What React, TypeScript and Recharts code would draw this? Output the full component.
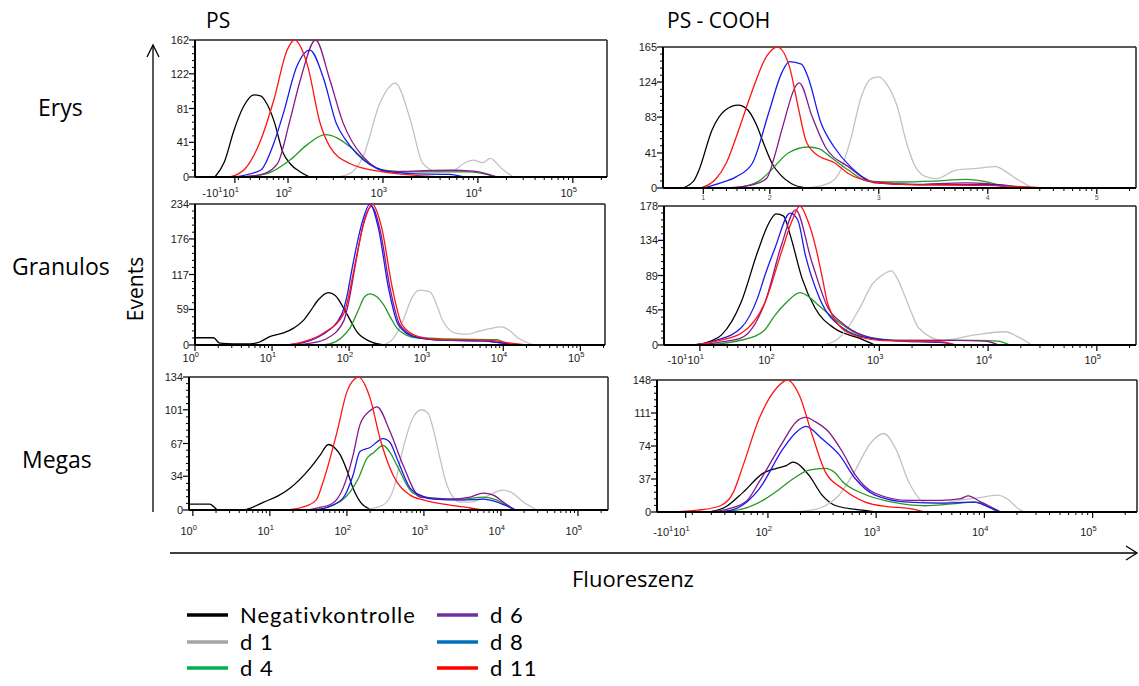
import { LineChart, Line, XAxis, YAxis, ReferenceLine } from "recharts";

type Pt = [number, number];

const seriesNames = ["Negativkontrolle", "d 1", "d 4", "d 6", "d 8", "d 11"];
const lineColors = ["#000000", "#c2c2c2", "#259a25", "#86188a", "#1a1aee", "#ff1414"];
const legendColors = ["#000000", "#a6a6a6", "#00b050", "#7030a0", "#0070c0", "#ff0000"];

const columnTitles = ["PS", "PS - COOH"];
const rowTitles = ["Erys", "Granulos", "Megas"];

// x = position on the fluorescence axis in decades (2 = 10^2), y = events

// PS, Erys
const psErysNeg: Pt[] = [[1.23, 0], [1.33, 18], [1.43, 55], [1.53, 83], [1.64, 97], [1.71, 96], [1.78, 86], [1.85, 67], [1.95, 28], [2.02, 16], [2.13, 6], [2.23, 0]];
const psErysD1: Pt[] = [[2.51, 0], [2.65, 4], [2.79, 24], [2.97, 88], [3.13, 111], [3.29, 67], [3.42, 16], [3.59, 6], [3.75, 8], [3.85, 16], [3.95, 20], [4.05, 17], [4.13, 22], [4.25, 10], [4.37, 0]];
const psErysD4: Pt[] = [[1.5, 0], [1.78, 4], [2.02, 20], [2.2, 38], [2.39, 50], [2.52, 46], [2.65, 36], [2.83, 18], [3.0, 8], [3.3, 6], [3.9, 6], [4.2, 0]];
const psErysD6: Pt[] = [[1.53, 0], [1.75, 4], [1.89, 16], [2.02, 67], [2.13, 115], [2.29, 162], [2.44, 115], [2.58, 64], [2.79, 24], [3.07, 6], [3.3, 7], [3.7, 8], [3.95, 7], [4.2, 0]];
const psErysD8: Pt[] = [[1.43, 0], [1.71, 8], [1.85, 40], [1.95, 75], [2.09, 130], [2.23, 150], [2.37, 118], [2.51, 63], [2.6, 45], [2.72, 28], [3.0, 8], [3.3, 4], [3.7, 3], [3.85, 0]];
const psErysD11: Pt[] = [[1.39, 0], [1.55, 10], [1.71, 43], [1.85, 91], [1.99, 150], [2.07, 162], [2.2, 134], [2.34, 63], [2.44, 36], [2.65, 16], [3.0, 6], [3.35, 2], [3.65, 0]];

// PS - COOH, Erys
const coohErysNeg: Pt[] = [[1.2, 0], [1.3, 8], [1.35, 21], [1.47, 68], [1.59, 91], [1.71, 97], [1.8, 91], [1.87, 76], [1.95, 50], [2.02, 29], [2.1, 15], [2.2, 5], [2.33, 0]];
const coohErysD1: Pt[] = [[2.35, 0], [2.55, 6], [2.65, 21], [2.74, 56], [2.84, 107], [2.93, 128], [3.0, 130], [3.08, 120], [3.17, 95], [3.25, 55], [3.32, 29], [3.42, 14], [3.53, 11], [3.71, 21], [3.9, 23], [4.07, 25], [4.18, 18], [4.26, 11], [4.41, 0]];
const coohErysD4: Pt[] = [[1.69, 0], [1.9, 8], [1.99, 18], [2.17, 41], [2.35, 48], [2.45, 46], [2.56, 36], [2.72, 21], [2.9, 8], [3.2, 7], [3.5, 8], [3.8, 10], [4.0, 7], [4.2, 0]];
const coohErysD6: Pt[] = [[1.6, 0], [1.85, 4], [1.97, 11], [2.05, 40], [2.11, 68], [2.27, 123], [2.39, 83], [2.51, 48], [2.72, 25], [2.96, 6], [3.3, 4], [3.8, 6], [4.0, 5], [4.2, 0]];
const coohErysD8: Pt[] = [[1.39, 0], [1.55, 6], [1.69, 13], [1.84, 29], [1.99, 88], [2.11, 135], [2.18, 148], [2.29, 145], [2.35, 130], [2.47, 76], [2.59, 48], [2.74, 25], [2.96, 7], [3.4, 4], [4.1, 4], [4.3, 0]];
const coohErysD11: Pt[] = [[1.36, 0], [1.5, 10], [1.6, 29], [1.72, 70], [1.82, 107], [1.97, 154], [2.07, 165], [2.18, 142], [2.26, 95], [2.33, 56], [2.42, 40], [2.6, 29], [2.72, 17], [2.96, 7], [3.3, 4], [4.0, 3], [4.57, 0]];

// PS, Granulos
const psGranNeg: Pt[] = [[0, 12], [0.24, 12], [0.32, 3], [0.5, 2], [0.71, 2], [0.84, 5], [0.97, 14], [1.15, 20], [1.28, 28], [1.4, 40], [1.49, 55], [1.6, 75], [1.73, 87], [1.82, 82], [1.93, 61], [2.02, 40], [2.1, 22], [2.27, 6], [2.45, 0]];
const psGranD1: Pt[] = [[2.45, 0], [2.58, 12], [2.71, 44], [2.82, 80], [2.92, 91], [3.05, 88], [3.14, 65], [3.22, 39], [3.4, 19], [3.55, 18], [3.66, 22], [3.82, 27], [3.98, 30], [4.08, 24], [4.18, 13], [4.4, 0]];
const psGranD4: Pt[] = [[1.6, 0], [1.75, 2], [1.9, 12], [2.01, 28], [2.12, 58], [2.2, 80], [2.27, 85], [2.36, 80], [2.45, 66], [2.54, 45], [2.62, 28], [2.75, 16], [2.88, 12], [3.3, 10], [3.92, 9], [4.05, 0]];
const psGranD6: Pt[] = [[1.3, 0], [1.5, 3], [1.7, 10], [1.93, 40], [2.0, 75], [2.07, 125], [2.19, 204], [2.29, 230], [2.4, 192], [2.53, 95], [2.66, 33], [2.88, 13], [3.2, 8], [3.75, 7], [4.0, 3], [4.18, 0]];
const psGranD8: Pt[] = [[1.2, 0], [1.4, 4], [1.65, 17], [1.9, 50], [1.97, 80], [2.04, 128], [2.17, 204], [2.27, 234], [2.38, 194], [2.51, 95], [2.64, 33], [2.86, 13], [3.2, 8], [3.74, 7], [4.0, 3], [4.18, 0]];
const psGranD11: Pt[] = [[1.2, 0], [1.4, 5], [1.67, 20], [1.93, 52], [2.0, 85], [2.07, 130], [2.2, 206], [2.3, 234], [2.42, 196], [2.56, 95], [2.69, 33], [2.9, 14], [3.2, 9], [3.8, 8], [4.1, 3], [4.3, 0]];

// PS - COOH, Granulos
const coohGranNeg: Pt[] = [[1.3, 0], [1.45, 5], [1.55, 13], [1.73, 55], [1.88, 119], [1.98, 155], [2.05, 168], [2.12, 165], [2.18, 141], [2.29, 85], [2.41, 47], [2.59, 21], [2.81, 9], [2.96, 0]];
const coohGranD1: Pt[] = [[2.48, 0], [2.6, 6], [2.71, 22], [2.83, 50], [2.93, 77], [3.03, 90], [3.11, 95], [3.17, 84], [3.23, 64], [3.3, 40], [3.36, 22], [3.58, 6], [3.88, 13], [4.16, 17], [4.28, 10], [4.4, 0]];
const coohGranD4: Pt[] = [[1.42, 0], [1.81, 9], [1.95, 20], [2.04, 38], [2.15, 55], [2.27, 67], [2.35, 62], [2.44, 51], [2.66, 26], [2.84, 12], [3.2, 6], [3.9, 6], [4.09, 5], [4.2, 0]];
const coohGranD6: Pt[] = [[1.35, 0], [1.55, 4], [1.73, 9], [1.95, 55], [2.1, 128], [2.23, 173], [2.38, 106], [2.53, 47], [2.66, 28], [2.84, 13], [3.1, 6], [3.7, 6], [3.97, 5], [4.1, 0]];
const coohGranD8: Pt[] = [[1.3, 0], [1.5, 6], [1.73, 22], [1.88, 60], [1.95, 90], [2.04, 124], [2.18, 169], [2.25, 160], [2.32, 115], [2.45, 60], [2.66, 22], [2.9, 9], [3.2, 5], [3.58, 3], [3.7, 0]];
const coohGranD11: Pt[] = [[1.3, 0], [1.5, 5], [1.73, 15], [1.95, 55], [2.1, 119], [2.2, 160], [2.27, 178], [2.34, 160], [2.41, 128], [2.47, 90], [2.53, 51], [2.71, 16], [3.0, 6], [3.58, 4], [3.7, 0]];

// PS, Megas
const psMegNeg: Pt[] = [[-0.05, 6], [0.22, 6], [0.33, 0], [0.66, 0], [0.75, 2], [0.92, 8], [1.1, 14], [1.26, 22], [1.52, 42], [1.65, 55], [1.76, 66], [1.85, 62], [1.91, 56], [2.0, 40], [2.08, 22], [2.21, 5], [2.34, 0]];
const psMegD1: Pt[] = [[2.21, 0], [2.47, 5], [2.6, 20], [2.73, 62], [2.85, 92], [2.97, 101], [3.05, 98], [3.12, 82], [3.2, 55], [3.3, 25], [3.47, 8], [3.6, 8], [3.77, 12], [3.9, 17], [4.03, 20], [4.15, 17], [4.29, 8], [4.47, 0]];
const psMegD4: Pt[] = [[1.6, 0], [1.8, 4], [2.04, 18], [2.15, 32], [2.26, 52], [2.35, 58], [2.47, 65], [2.56, 58], [2.65, 45], [2.86, 17], [3.12, 12], [3.5, 11], [3.77, 13], [3.95, 10], [4.16, 0]];
const psMegD6: Pt[] = [[1.5, 0], [1.61, 2], [1.8, 6], [1.95, 22], [2.08, 55], [2.17, 86], [2.3, 100], [2.39, 104], [2.56, 79], [2.73, 45], [2.95, 13], [3.1, 12], [3.34, 11], [3.6, 13], [3.77, 17], [3.9, 15], [4.03, 8], [4.18, 0]];
const psMegD8: Pt[] = [[1.55, 0], [1.75, 3], [1.95, 12], [2.08, 35], [2.17, 59], [2.3, 63], [2.47, 72], [2.56, 68], [2.65, 52], [2.82, 22], [2.95, 15], [3.12, 11], [3.5, 10], [3.77, 11], [3.95, 8], [4.11, 3], [4.2, 0]];
const psMegD11: Pt[] = [[1.18, 0], [1.43, 3], [1.6, 10], [1.69, 28], [1.87, 78], [2.0, 119], [2.1, 132], [2.15, 134], [2.3, 113], [2.43, 72], [2.6, 35], [2.82, 15], [3.0, 10], [3.34, 5], [3.6, 2], [3.77, 0]];

// PS - COOH, Megas
const coohMegNeg: Pt[] = [[1.46, 0], [1.6, 5], [1.77, 22], [1.95, 43], [2.08, 49], [2.17, 52], [2.23, 56], [2.38, 41], [2.5, 19], [2.63, 7], [2.87, 2], [3.0, 0]];
const coohMegD1: Pt[] = [[2.23, 0], [2.4, 2], [2.53, 7], [2.65, 18], [2.78, 41], [2.96, 79], [3.07, 88], [3.18, 71], [3.3, 34], [3.45, 11], [3.6, 10], [3.76, 13], [3.95, 16], [4.12, 19], [4.22, 14], [4.31, 4], [4.37, 0]];
const coohMegD4: Pt[] = [[1.5, 0], [1.71, 2], [1.98, 15], [2.1, 25], [2.23, 37], [2.38, 47], [2.53, 49], [2.62, 44], [2.69, 34], [2.87, 21], [3.15, 11], [3.45, 7], [3.7, 9], [3.91, 11], [4.0, 8], [4.12, 0]];
const coohMegD6: Pt[] = [[1.45, 0], [1.62, 3], [1.8, 12], [1.92, 34], [2.14, 79], [2.26, 101], [2.35, 106], [2.44, 101], [2.56, 90], [2.69, 67], [2.81, 41], [2.99, 21], [3.3, 13], [3.6, 13], [3.78, 15], [3.85, 18], [3.97, 11], [4.15, 0]];
const coohMegD8: Pt[] = [[1.55, 0], [1.71, 4], [1.92, 26], [2.14, 71], [2.25, 88], [2.35, 96], [2.5, 82], [2.66, 64], [2.81, 37], [2.99, 19], [3.3, 11], [3.6, 10], [3.91, 11], [4.03, 6], [4.15, 0]];
const coohMegD11: Pt[] = [[1.1, 0], [1.35, 2], [1.56, 7], [1.68, 22], [1.77, 52], [1.92, 105], [2.08, 139], [2.18, 148], [2.29, 131], [2.41, 86], [2.53, 45], [2.69, 26], [2.9, 11], [3.1, 6], [3.3, 4], [3.45, 0]];

// axis ticks
const psErysYTicks = [0, 41, 81, 122, 162];
const coohErysYTicks = [0, 41, 83, 124, 165];
const psGranYTicks = [0, 59, 117, 176, 234];
const coohGranYTicks = [0, 45, 89, 134, 178];
const psMegYTicks = [0, 34, 67, 101, 134];
const coohMegYTicks = [0, 37, 74, 111, 148];

const logLabels = ["10^0", "10^1", "10^2", "10^3", "10^4", "10^5"];
const logicleLabels = ["-10^1 10^1", "10^2", "10^3", "10^4", "10^5"];
const exponentLabels = ["1", "2", "3", "4", "5"];

interface PanelSpec {
  box: [number, number, number, number];
  xDomain: [number, number];
  xMajor: number[];
  xLabels: string[];
  yTicks: number[];
  labelDy: number;
  tiny?: boolean;
  series: Pt[][];
}

const panels: PanelSpec[] = [
  {
    box: [195, 40, 607, 177], xDomain: [1.02, 5.36], xMajor: [1.44, 2, 3, 4, 5], xLabels: logicleLabels,
    yTicks: psErysYTicks, labelDy: 20,
    series: [psErysNeg, psErysD1, psErysD4, psErysD6, psErysD8, psErysD11],
  },
  {
    box: [663, 47, 1136, 188], xDomain: [1.02, 5.36], xMajor: [1.39, 2, 3, 4, 5], xLabels: exponentLabels,
    yTicks: coohErysYTicks, labelDy: 12, tiny: true,
    series: [coohErysNeg, coohErysD1, coohErysD4, coohErysD6, coohErysD8, coohErysD11],
  },
  {
    box: [195, 204, 605, 345], xDomain: [0, 5.32], xMajor: [0, 1, 2, 3, 4, 5], xLabels: logLabels,
    yTicks: psGranYTicks, labelDy: 17,
    series: [psGranNeg, psGranD1, psGranD4, psGranD6, psGranD8, psGranD11],
  },
  {
    box: [664, 206, 1136, 345], xDomain: [1.02, 5.36], xMajor: [1.35, 2, 3, 4, 5], xLabels: logicleLabels,
    yTicks: coohGranYTicks, labelDy: 19,
    series: [coohGranNeg, coohGranD1, coohGranD4, coohGranD6, coohGranD8, coohGranD11],
  },
  {
    box: [189, 377, 608, 510], xDomain: [-0.05, 5.39], xMajor: [0, 1, 2, 3, 4, 5], xLabels: logLabels,
    yTicks: psMegYTicks, labelDy: 25,
    series: [psMegNeg, psMegD1, psMegD4, psMegD6, psMegD8, psMegD11],
  },
  {
    box: [657, 380, 1137, 512], xDomain: [0.975, 5.41], xMajor: [1.24, 2, 3, 4, 5], xLabels: logicleLabels,
    yTicks: coohMegYTicks, labelDy: 24,
    series: [coohMegNeg, coohMegD1, coohMegD4, coohMegD6, coohMegD8, coohMegD11],
  },
];

const tickFont = "'Liberation Sans', Arial, sans-serif";
const textFont = "'Open Sans', Lato, sans-serif";
const legendFont = "Lato, 'Open Sans', sans-serif";

// log-style minor ticks between the labelled decades
function minorXTicks(spec: PanelSpec): number[] {
  const [lo, hi] = spec.xDomain;
  const start = spec.xMajor[0];
  const out: number[] = [];
  for (let dec = Math.floor(lo); dec < Math.ceil(hi); dec++) {
    for (let m = 2; m <= 9; m++) {
      const v = dec + Math.log10(m);
      if (v > start + 0.02 && v > lo && v < hi) out.push(v);
    }
  }
  return out;
}

function minorYTicks(yMax: number): number[] {
  const out: number[] = [];
  for (let i = 1; i < 20; i++) if (i % 5 !== 0) out.push((yMax * i) / 20);
  return out;
}

function isMajor(list: number[], v: number) {
  return list.findIndex((m) => Math.abs(m - v) < 1e-6);
}

function XTickLabel({ label, x, y, tiny }: { label: string; x: number; y: number; tiny?: boolean }) {
  if (tiny) {
    return (
      <text x={x} y={y} textAnchor="middle" fontSize={7} fill="#555" fontFamily={tickFont}>
        {label}
      </text>
    );
  }
  const spans: any[] = [];
  let raised = false;
  label.split(" ").forEach((part, k) => {
    const [base, exp] = part.split("^");
    spans.push(<tspan key={`b${k}`} dy={raised ? 5 : 0}>{base}</tspan>);
    raised = false;
    if (exp) {
      spans.push(<tspan key={`e${k}`} dy={-5} fontSize={7.5}>{exp}</tspan>);
      raised = true;
    }
  });
  return (
    <text x={x + 4} y={y} textAnchor="end" fontSize={11} fill="#1a1a1a" fontFamily={tickFont}>
      {spans}
    </text>
  );
}

function Histogram({ spec }: { spec: PanelSpec }) {
  const [left, top, right, bottom] = spec.box;
  const yAxisW = 40;
  const mTop = 6;
  const mRight = 6;
  const xAxisH = 32;
  const width = yAxisW + (right - left) + mRight;
  const height = mTop + (bottom - top) + xAxisH;
  const yMax = spec.yTicks[spec.yTicks.length - 1];
  const xTicks = [...spec.xMajor, ...minorXTicks(spec)].sort((a, b) => a - b);
  const yTicks = [...spec.yTicks, ...minorYTicks(yMax)].sort((a, b) => a - b);

  const renderXTick = (props: any) => {
    const { x, y, payload } = props;
    const idx = isMajor(spec.xMajor, payload.value);
    if (idx < 0) return <line x1={x} x2={x} y1={y} y2={y + 3} stroke="#000" strokeWidth={1} />;
    return (
      <g>
        <line x1={x} x2={x} y1={y} y2={y + 6} stroke="#000" strokeWidth={1.2} />
        <XTickLabel label={spec.xLabels[idx]} x={x} y={y + spec.labelDy} tiny={spec.tiny} />
      </g>
    );
  };

  const renderYTick = (props: any) => {
    const { x, y, payload } = props;
    const idx = isMajor(spec.yTicks, payload.value);
    if (idx < 0) return <line x1={x - 3} x2={x} y1={y} y2={y} stroke="#000" strokeWidth={1} />;
    return (
      <g>
        <line x1={x - 6} x2={x} y1={y} y2={y} stroke="#000" strokeWidth={1.2} />
        <text x={x - 6} y={y + 4} textAnchor="end" fontSize={11} fill="#1a1a1a" fontFamily={tickFont}>
          {spec.yTicks[idx]}
        </text>
      </g>
    );
  };

  return (
    <div style={{ position: "absolute", left: left - yAxisW, top: top - mTop }}>
      <LineChart width={width} height={height} margin={{ top: mTop, right: mRight, left: 0, bottom: 0 }}>
        <XAxis
          type="number"
          dataKey="x"
          domain={spec.xDomain}
          ticks={xTicks}
          interval={0}
          allowDataOverflow
          height={xAxisH}
          tickSize={0}
          tickMargin={0}
          tickLine={false}
          axisLine={{ stroke: "#000", strokeWidth: 2 }}
          tick={renderXTick}
        />
        <YAxis
          type="number"
          domain={[0, yMax]}
          ticks={yTicks}
          interval={0}
          allowDataOverflow
          width={yAxisW}
          tickSize={0}
          tickMargin={0}
          tickLine={false}
          axisLine={{ stroke: "#000", strokeWidth: 2 }}
          tick={renderYTick}
        />
        <ReferenceLine y={yMax} stroke="#222" strokeWidth={1.5} />
        <ReferenceLine x={spec.xDomain[1]} stroke="#222" strokeWidth={1.5} />
        {spec.series.map((pts, i) => (
          <Line
            key={seriesNames[i]}
            name={seriesNames[i]}
            data={pts.map(([x, y]) => ({ x, y }))}
            dataKey="y"
            type="monotone"
            stroke={lineColors[i]}
            strokeWidth={1.3}
            dot={false}
            activeDot={false}
            isAnimationActive={false}
          />
        ))}
      </LineChart>
    </div>
  );
}

function Frame() {
  const rowPos = [
    { x: 38, y: 116 },
    { x: 12, y: 275 },
    { x: 22, y: 468 },
  ];
  const legendRows = [615, 642, 668];
  return (
    <svg width={1139} height={686} style={{ position: "absolute", left: 0, top: 0 }}>
      <g fontFamily={textFont} fill="#000">
        <text x={206} y={28} fontSize={21}>{columnTitles[0]}</text>
        <text x={667} y={28} fontSize={21}>{columnTitles[1]}</text>
        {rowTitles.map((t, i) => (
          <text key={t} x={rowPos[i].x} y={rowPos[i].y} fontSize={23}>{t}</text>
        ))}
        <text transform="translate(143,289) rotate(-90)" textAnchor="middle" fontSize={21}>Events</text>
        <text x={572} y={587} fontSize={22}>Fluoreszenz</text>
      </g>

      {/* Events arrow */}
      <line x1={153} y1={45} x2={153} y2={512} stroke="#000" strokeWidth={1.3} />
      <polyline points="147,57 153,45 159,57" fill="none" stroke="#000" strokeWidth={1.3} />
      {/* Fluoreszenz arrow */}
      <line x1={170} y1={553} x2={1137} y2={553} stroke="#000" strokeWidth={1.3} />
      <polyline points="1126,546 1137,553 1126,560" fill="none" stroke="#000" strokeWidth={1.3} />

      {seriesNames.map((name, i) => {
        const col = i < 3 ? 0 : 1;
        const y = legendRows[i % 3];
        const x0 = col === 0 ? 187 : 437;
        return (
          <g key={name}>
            <line x1={x0} x2={x0 + 41} y1={y} y2={y} stroke={legendColors[i]} strokeWidth={3.5} />
            <text x={x0 + 53} y={y + 8} fontSize={22} letterSpacing={1} fontFamily={legendFont} fill="#000">
              {name}
            </text>
          </g>
        );
      })}
    </svg>
  );
}

export default function App() {
  return (
    <div style={{ position: "absolute", left: 0, top: 0, width: 1139, height: 686, background: "#fff" }}>
      <Frame />
      {panels.map((p, i) => (
        <Histogram key={i} spec={p} />
      ))}
    </div>
  );
}
